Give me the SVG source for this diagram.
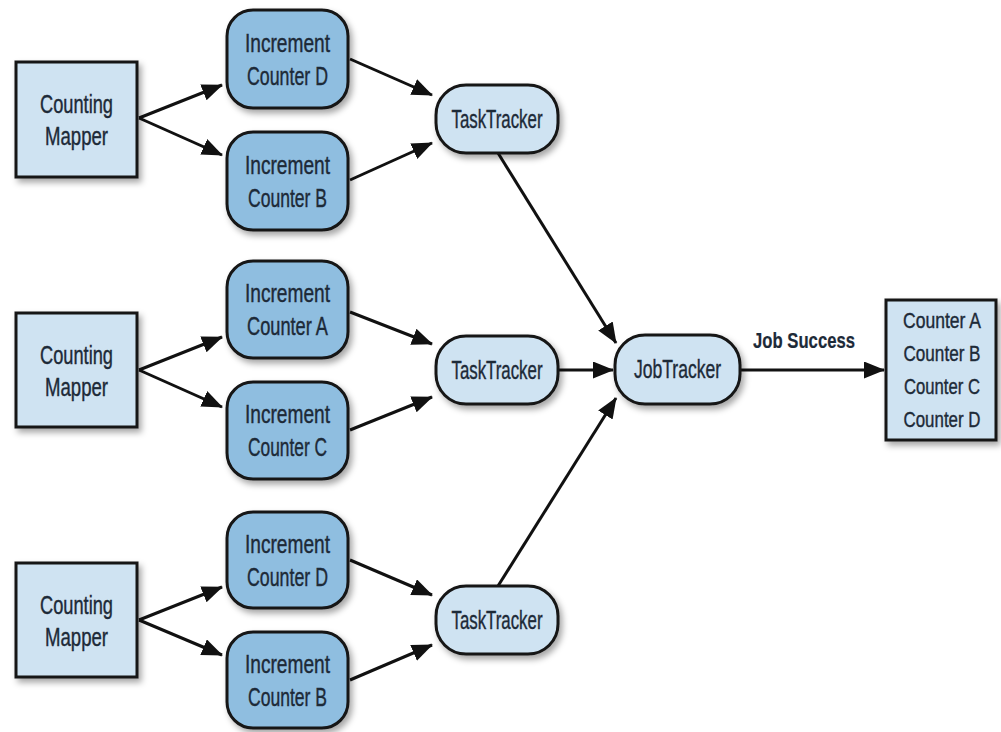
<svg xmlns="http://www.w3.org/2000/svg" width="1001" height="732" viewBox="0 0 1001 732">
  <style>
    .light { fill: #cfe3f2; stroke: #141414; stroke-width: 3; filter: url(#shadow); }
    .mid { fill: #8fbee0; stroke: #141414; stroke-width: 3; filter: url(#shadow); }
    .lbl { font-family: "Liberation Sans Narrow", "Liberation Sans", Arial, sans-serif; font-size: 25px; fill: #1d2a38; stroke: #1d2a38; stroke-width: 0.4; text-anchor: middle; }
    .sm { font-size: 22px; }
    .bold { font-weight: bold; stroke-width: 0.2; }
    .edge { stroke: #111; stroke-width: 3; fill: none; marker-end: url(#arrow); }
  </style>
  <defs>
    <filter id="shadow" x="-20%" y="-20%" width="150%" height="150%">
      <feDropShadow dx="3" dy="4" stdDeviation="3" flood-color="#000" flood-opacity="0.35"/>
    </filter>
    <marker id="arrow" markerUnits="userSpaceOnUse" markerWidth="22" markerHeight="18" refX="20" refY="8.5" orient="auto">
      <path d="M0,0 L21,8.5 L0,17 Z" fill="#111"/>
    </marker>
  </defs>

  <!-- connectors -->
  <g id="connectors">
    <line class="edge" x1="139" y1="118" x2="222" y2="85"/>
    <line class="edge" x1="139" y1="118" x2="222" y2="155"/>
    <line class="edge" x1="139" y1="370" x2="222" y2="337"/>
    <line class="edge" x1="139" y1="370" x2="222" y2="407"/>
    <line class="edge" x1="139" y1="620" x2="222" y2="587"/>
    <line class="edge" x1="139" y1="620" x2="222" y2="655"/>

    <line class="edge" x1="350" y1="59" x2="432" y2="95"/>
    <line class="edge" x1="350" y1="180" x2="432" y2="143"/>
    <line class="edge" x1="350" y1="312" x2="432" y2="344"/>
    <line class="edge" x1="350" y1="430" x2="432" y2="397"/>
    <line class="edge" x1="350" y1="560" x2="432" y2="595"/>
    <line class="edge" x1="350" y1="680" x2="432" y2="645"/>

    <line class="edge" x1="498" y1="153" x2="616" y2="343"/>
    <line class="edge" x1="558" y1="370" x2="613" y2="370"/>
    <line class="edge" x1="498" y1="586" x2="616" y2="398"/>

    <line class="edge" x1="740" y1="370" x2="884" y2="370"/>
    <text class="lbl sm bold" x="804" y="348" textLength="102" lengthAdjust="spacingAndGlyphs">Job Success</text>
  </g>

  <!-- mappers -->
  <g id="mapper1">
    <rect class="light" x="16" y="62" width="121" height="115"/>
    <text class="lbl" x="76.5" y="113" textLength="73" lengthAdjust="spacingAndGlyphs">Counting</text>
    <text class="lbl" x="76.5" y="145" textLength="63" lengthAdjust="spacingAndGlyphs">Mapper</text>
  </g>
  <g id="mapper2">
    <rect class="light" x="16" y="313" width="121" height="114"/>
    <text class="lbl" x="76.5" y="364" textLength="73" lengthAdjust="spacingAndGlyphs">Counting</text>
    <text class="lbl" x="76.5" y="396" textLength="63" lengthAdjust="spacingAndGlyphs">Mapper</text>
  </g>
  <g id="mapper3">
    <rect class="light" x="16" y="563" width="121" height="114"/>
    <text class="lbl" x="76.5" y="614" textLength="73" lengthAdjust="spacingAndGlyphs">Counting</text>
    <text class="lbl" x="76.5" y="646" textLength="63" lengthAdjust="spacingAndGlyphs">Mapper</text>
  </g>

  <!-- increment steps -->
  <g id="incD1">
    <rect class="mid" x="227" y="10" width="121" height="98" rx="26"/>
    <text class="lbl" x="287.5" y="52" textLength="85" lengthAdjust="spacingAndGlyphs">Increment</text>
    <text class="lbl" x="287.5" y="85" textLength="81" lengthAdjust="spacingAndGlyphs">Counter D</text>
  </g>
  <g id="incB1">
    <rect class="mid" x="227" y="132" width="121" height="98" rx="26"/>
    <text class="lbl" x="287.5" y="174" textLength="85" lengthAdjust="spacingAndGlyphs">Increment</text>
    <text class="lbl" x="287.5" y="207" textLength="79" lengthAdjust="spacingAndGlyphs">Counter B</text>
  </g>
  <g id="incA">
    <rect class="mid" x="227" y="261" width="121" height="97" rx="26"/>
    <text class="lbl" x="287.5" y="302" textLength="85" lengthAdjust="spacingAndGlyphs">Increment</text>
    <text class="lbl" x="287.5" y="335" textLength="81" lengthAdjust="spacingAndGlyphs">Counter A</text>
  </g>
  <g id="incC">
    <rect class="mid" x="227" y="382" width="121" height="97" rx="26"/>
    <text class="lbl" x="287.5" y="423" textLength="85" lengthAdjust="spacingAndGlyphs">Increment</text>
    <text class="lbl" x="287.5" y="456" textLength="79" lengthAdjust="spacingAndGlyphs">Counter C</text>
  </g>
  <g id="incD3">
    <rect class="mid" x="227" y="512" width="121" height="96" rx="26"/>
    <text class="lbl" x="287.5" y="553" textLength="85" lengthAdjust="spacingAndGlyphs">Increment</text>
    <text class="lbl" x="287.5" y="586" textLength="81" lengthAdjust="spacingAndGlyphs">Counter D</text>
  </g>
  <g id="incB3">
    <rect class="mid" x="227" y="632" width="121" height="96" rx="26"/>
    <text class="lbl" x="287.5" y="673" textLength="85" lengthAdjust="spacingAndGlyphs">Increment</text>
    <text class="lbl" x="287.5" y="706" textLength="79" lengthAdjust="spacingAndGlyphs">Counter B</text>
  </g>

  <!-- task trackers -->
  <g id="taskTracker1">
    <rect class="light" x="436" y="85" width="122" height="68" rx="30"/>
    <text class="lbl" x="497" y="128" textLength="91" lengthAdjust="spacingAndGlyphs">TaskTracker</text>
  </g>
  <g id="taskTracker2">
    <rect class="light" x="436" y="336" width="122" height="68" rx="30"/>
    <text class="lbl" x="497" y="379" textLength="91" lengthAdjust="spacingAndGlyphs">TaskTracker</text>
  </g>
  <g id="taskTracker3">
    <rect class="light" x="436" y="586" width="122" height="68" rx="30"/>
    <text class="lbl" x="497" y="629" textLength="91" lengthAdjust="spacingAndGlyphs">TaskTracker</text>
  </g>

  <!-- job tracker -->
  <g id="jobTracker">
    <rect class="light" x="615" y="335" width="125" height="69" rx="30"/>
    <text class="lbl" x="677.5" y="378" textLength="87" lengthAdjust="spacingAndGlyphs">JobTracker</text>
  </g>

  <!-- final counters -->
  <g id="counters">
    <rect class="light" x="886" y="300" width="110" height="140"/>
    <text class="lbl sm" x="942" y="328" textLength="78" lengthAdjust="spacingAndGlyphs">Counter A</text>
    <text class="lbl sm" x="942" y="361" textLength="77" lengthAdjust="spacingAndGlyphs">Counter B</text>
    <text class="lbl sm" x="942" y="394" textLength="76" lengthAdjust="spacingAndGlyphs">Counter C</text>
    <text class="lbl sm" x="942" y="427" textLength="77" lengthAdjust="spacingAndGlyphs">Counter D</text>
  </g>
</svg>
